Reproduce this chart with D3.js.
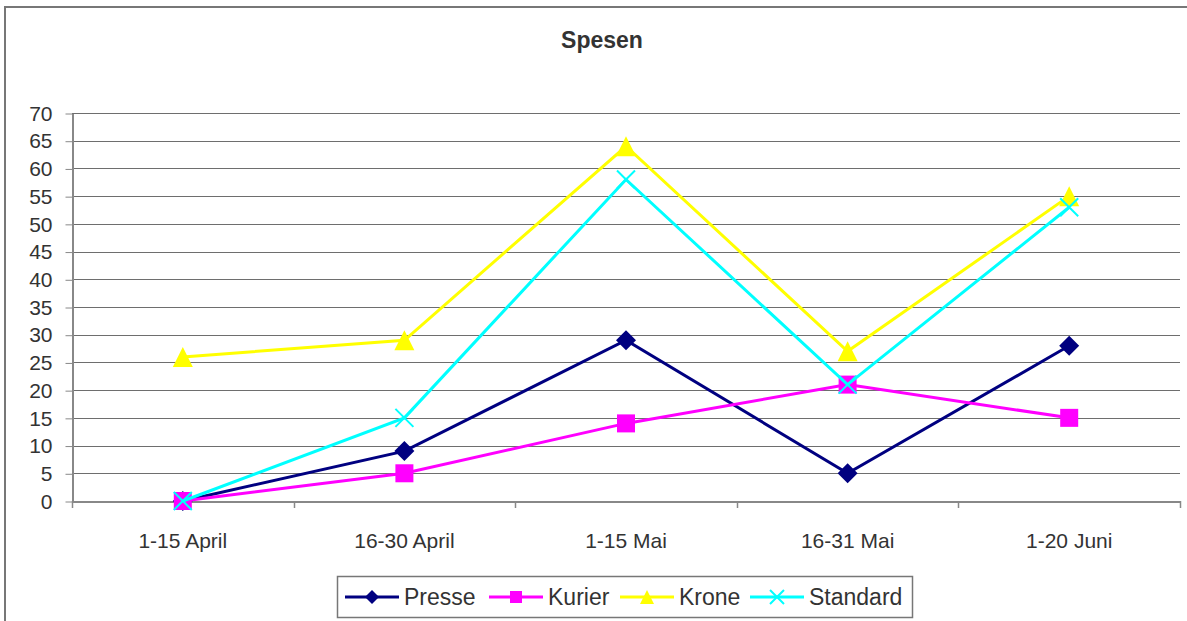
<!DOCTYPE html>
<html><head><meta charset="utf-8">
<script src="https://cdn.jsdelivr.net/npm/d3@7"></script>
<style>
html,body{margin:0;padding:0;background:#fff;}
svg{display:block;font-family:"Liberation Sans",Arial,sans-serif;}
</style></head>
<body>
<svg id="c" width="1187" height="621"></svg>
<script>
const categories = ["1-15 April","16-30 April","1-15 Mai","16-31 Mai","1-20 Juni"];
const presse   = [0, 9, 29, 5, 28];
const kurier   = [0, 5, 14, 21, 15];
const krone    = [26, 29, 64, 27, 55];
const standard = [0, 15, 58, 21, 53];
const yTicks = d3.range(0, 71, 5);
const seriesNames = ["Presse","Kurier","Krone","Standard"];
const seriesColors = ["#000080","#FF00FF","#FFFF00","#00FFFF"];
const seriesShapes = ["diamond","square","triangle","x"];
const seriesValues = [presse, kurier, krone, standard];

const svg = d3.select("#c");
const textColor = "#333";

// chart border
svg.append("rect").attr("x",5).attr("y",7).attr("width",1200).attr("height",640)
  .attr("fill","none").attr("stroke","#777").attr("stroke-width",2);

// title
svg.append("text").attr("x",602).attr("y",48).attr("text-anchor","middle")
  .attr("font-size",23).attr("font-weight","bold").attr("fill",textColor).text("Spesen");

const L = 72, R = 1180, T = 113, B = 501;
const x = d3.scaleBand().domain(categories).range([L, R]).padding(0);
const cx = c => x(c) + x.bandwidth()/2;
const y = d3.scaleLinear().domain([0,70]).range([B, T]);

// gridlines
svg.append("g").selectAll("line").data(yTicks.filter(d=>d>0)).join("line")
  .attr("x1",L).attr("x2",R).attr("y1",d=>Math.round(y(d))+0.5).attr("y2",d=>Math.round(y(d))+0.5)
  .attr("stroke","#6e6e6e").attr("stroke-width",1);

// y axis
const yAxis = d3.axisLeft(y).tickValues(yTicks).tickSize(7).tickPadding(13).tickSizeOuter(0);
const gy = svg.append("g").attr("transform",`translate(${L+0.5},0.5)`).call(yAxis);
gy.select(".domain").attr("stroke","#888").attr("stroke-width",2);
gy.selectAll(".tick line").attr("stroke","#888");
gy.selectAll(".tick text").attr("font-size",21).attr("fill",textColor).attr("font-family","Liberation Sans, Arial, sans-serif");

// x axis
const xAxis = d3.axisBottom(x).tickSize(0).tickPadding(32);
const gx = svg.append("g").attr("transform",`translate(0,${B+0.5})`).call(xAxis);
gx.select(".domain").attr("stroke","#888").attr("stroke-width",2);
gx.selectAll(".tick text").attr("font-size",21).attr("fill",textColor).attr("font-family","Liberation Sans, Arial, sans-serif");
// ticks at category boundaries
const bounds = categories.map(c=>x(c)).concat([R]);
svg.append("g").selectAll("line").data(bounds).join("line")
  .attr("x1",d=>Math.round(d)+0.5).attr("x2",d=>Math.round(d)+0.5).attr("y1",B).attr("y2",B+7)
  .attr("stroke","#888").attr("stroke-width",1.5);

function drawMarker(g, shape, color, px, py, s) {
  if (shape==="diamond") {
    g.append("path").attr("d",`M${px},${py-s/2}L${px+s/2},${py}L${px},${py+s/2}L${px-s/2},${py}Z`).attr("fill",color);
  } else if (shape==="square") {
    g.append("rect").attr("x",px-s/2).attr("y",py-s/2).attr("width",s).attr("height",s).attr("fill",color);
  } else if (shape==="triangle") {
    g.append("path").attr("d",`M${px},${py-s/2}L${px+s/2},${py+s/2}L${px-s/2},${py+s/2}Z`).attr("fill",color);
  } else {
    const h = s/2;
    g.append("path").attr("d",`M${px-h},${py-h}L${px+h},${py+h}M${px-h},${py+h}L${px+h},${py-h}`)
      .attr("stroke",color).attr("stroke-width",2).attr("fill","none");
  }
}
const plotSizes = {diamond:20, square:18, triangle:20, x:18};
const legendSizes = {diamond:14, square:12, triangle:14, x:14};

const line = d3.line().x((d,i)=>cx(categories[i])).y(d=>y(d));
seriesValues.forEach((vals, si) => {
  const g = svg.append("g");
  g.append("path").datum(vals).attr("d",line).attr("fill","none")
    .attr("stroke",seriesColors[si]).attr("stroke-width",3).attr("stroke-linejoin","miter");
  vals.forEach((v,i) => drawMarker(g, seriesShapes[si], seriesColors[si], cx(categories[i]), y(v), plotSizes[seriesShapes[si]]));
});

// legend
const lg = svg.append("g");
lg.append("rect").attr("x",337.5).attr("y",576.5).attr("width",575).attr("height",41)
  .attr("fill","#fff").attr("stroke","#777").attr("stroke-width",1.5);
const legendX = [345, 489, 620, 750];
seriesNames.forEach((n, si) => {
  const x0 = legendX[si], yy = 597;
  lg.append("line").attr("x1",x0).attr("x2",x0+54).attr("y1",yy).attr("y2",yy)
    .attr("stroke",seriesColors[si]).attr("stroke-width",3);
  drawMarker(lg, seriesShapes[si], seriesColors[si], x0+27, yy, legendSizes[seriesShapes[si]]);
  lg.append("text").attr("x",x0+59).attr("y",yy+8).attr("font-size",23).attr("fill",textColor).text(n);
});
</script>
</body></html>
